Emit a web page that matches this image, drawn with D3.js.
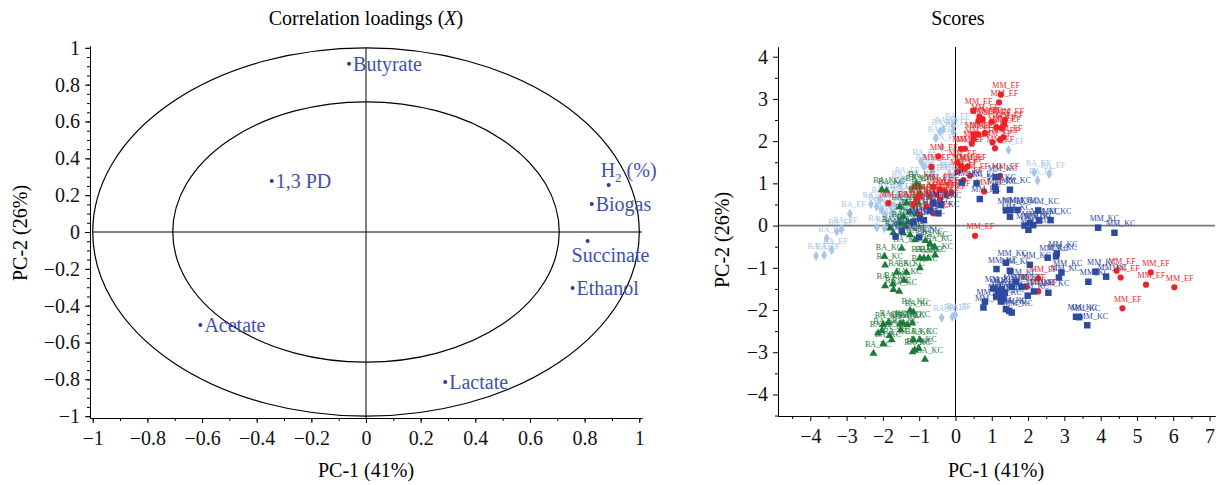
<!DOCTYPE html>
<html>
<head>
<meta charset="utf-8">
<script src="https://cdn.jsdelivr.net/npm/d3@7"></script>
<style>
  body { margin: 0; background: #fff; }
  svg { font-family: "Liberation Serif", "DejaVu Serif", serif; }
</style>
</head>
<body>
<svg id="chart" width="1216" height="485"></svg>
<script>
// ---------- loadings (left panel) ----------
var loadNames = ["Butyrate", "1,3 PD", "H2 (%)", "Biogas", "Succinate", "Ethanol", "Acetate", "Lactate"];
var loadPC1 = [-0.062, -0.345, 0.888, 0.826, 0.811, 0.756, -0.606, 0.290];
var loadPC2 = [0.913, 0.277, 0.255, 0.152, -0.049, -0.304, -0.505, -0.815];

var loadTicks = [-1, -0.8, -0.6, -0.4, -0.2, 0, 0.2, 0.4, 0.6, 0.8, 1];
var scoreXTicks = [-4, -3, -2, -1, 0, 1, 2, 3, 4, 5, 6, 7];
var scoreYTicks = [-4, -3, -2, -1, 0, 1, 2, 3, 4];

// ---------- scores (right panel): [PC-1, PC-2] ----------
var groupNames = ["BA_EF", "BA_KC", "MM_EF", "MM_KC"];

var baEF = [[-0.06,2.23],[-0.43,2.23],[-0.34,2.28],[-0.54,2.07],[-0.06,2.36],[-0.38,1.87],[1.46,1.79],
  [-0.95,1.52],[-0.87,1.40],[-0.70,1.40],[-0.63,1.28],[-0.29,1.16],[2.17,1.26],[2.58,1.22],[2.26,1.07],
  [-1.44,1.08],[-1.53,0.99],[-1.90,0.77],[-2.08,0.62],[-2.33,0.51],[-2.17,0.45],[-2.03,0.37],[-1.94,0.25],
  [-1.76,0.31],[-1.90,0.13],[-1.62,0.02],[-1.58,0.21],[-2.91,0.28],[-3.14,-0.09],[-3.27,-0.14],[-3.55,-0.30],
  [-3.41,-0.58],[-3.62,-0.70],[-3.84,-0.72],[-2.17,-0.05],[-1.96,-0.06],[-0.38,-2.18],[-0.09,-2.16],[-0.01,-2.12],
  [-1.58,0.71],[-1.48,0.61],[-1.35,0.69],[-1.80,0.49],[-1.35,0.37],[-1.16,0.45],[-0.61,1.16],[-0.17,1.22],
  [-0.06,1.16],[-1.21,0.88],[-1.71,0.29]];

var baKC = [[-1.07,0.99],[-1.14,0.91],[-0.98,0.92],[-2.03,0.85],[-1.90,0.83],[-0.98,0.77],[-1.07,0.65],
  [-1.02,0.53],[-1.35,0.53],[-1.53,0.45],[-1.25,0.33],[-1.07,0.28],[-1.44,0.21],[-1.30,0.09],[-1.53,0.06],
  [-1.39,-0.02],[-1.80,-0.06],[-1.71,-0.17],[-1.44,-0.18],[-1.25,-0.22],[-1.12,-0.34],[-1.48,-0.54],
  [-0.83,-0.36],[-0.70,-0.43],[-0.58,-0.51],[-1.96,-0.73],[-0.98,-0.77],[-0.87,-0.77],[-0.75,-0.77],
  [-0.56,-0.70],[-1.94,-0.94],[-0.98,-1.00],[-1.62,-1.11],[-1.35,-1.11],[-1.42,-1.30],[-1.94,-1.43],
  [-1.73,-1.39],[-1.71,-1.52],[-1.55,-1.56],[-1.25,-2.01],[-1.16,-2.05],[-1.99,-2.34],[-2.13,-2.55],
  [-2.03,-2.49],[-2.26,-3.03],[-1.99,-2.80],[-1.76,-2.71],[-1.53,-2.33],[-1.44,-2.31],[-1.33,-2.35],
  [-1.19,-2.31],[-1.51,-2.47],[-1.16,-2.71],[-1.12,-2.95],[-1.18,-2.99],[-0.98,-2.71],[-1.01,-2.91],
  [-0.84,-3.17],[-1.85,-2.30],[-1.82,-2.61]];

var mmEF = [[1.25,3.10],[1.20,2.92],[0.49,2.72],[0.66,2.58],[0.63,2.48],[0.75,2.52],[1.00,2.46],[1.36,2.50],
  [1.34,2.39],[1.13,2.33],[1.27,2.31],[0.49,2.16],[0.63,2.16],[0.81,2.19],[0.49,2.05],[0.45,1.94],[1.02,1.97],
  [1.23,2.03],[1.32,2.09],[1.09,1.83],[0.15,1.82],[0.26,1.82],[-0.66,1.39],[0.05,1.49],[0.14,1.41],[0.23,1.35],
  [0.33,1.40],[0.08,1.28],[0.22,1.08],[0.40,1.18],[1.23,1.18],[0.79,0.81],[-0.61,0.92],[-0.43,0.85],
  [-0.29,0.81],[-0.11,0.78],[-0.24,0.72],[-0.52,0.73],[-0.70,0.69],[-0.98,0.70],[-1.07,0.61],[-0.61,0.57],
  [-0.43,0.62],[-1.16,0.51],[-0.61,0.29],[-0.79,0.45],[-1.85,0.53],[-0.98,0.25],[0.54,-0.24],[4.44,-1.07],
  [4.55,-1.23],[5.38,-1.11],[5.25,-1.40],[6.03,-1.46],[4.60,-1.96],[2.28,-1.25],[1.96,-1.45],[2.28,-1.56],
  [-0.47,1.64]];

var mmKC = [[0.17,1.02],[0.58,1.00],[1.12,1.15],[1.09,0.92],[1.11,0.83],[1.50,0.85],[0.67,0.63],[1.39,0.36],
  [1.52,0.37],[1.71,0.37],[1.50,0.21],[2.28,0.36],[2.30,0.12],[2.62,0.13],[1.90,0.00],[2.01,-0.10],[2.05,0.06],
  [2.14,0.01],[3.93,-0.05],[4.38,-0.17],[2.79,-0.66],[2.77,-0.73],[2.54,-0.76],[1.39,-0.88],[2.05,-0.93],
  [1.13,-1.03],[1.50,-1.07],[2.92,-1.11],[3.86,-1.09],[4.15,-1.21],[2.85,-1.23],[1.67,-1.33],[3.66,-1.33],
  [1.04,-1.49],[1.18,-1.56],[1.27,-1.51],[1.36,-1.60],[1.55,-1.45],[1.82,-1.45],[2.16,-1.56],[2.56,-1.59],
  [1.23,-1.67],[1.32,-1.72],[1.12,-1.68],[1.99,-1.66],[0.81,-1.80],[1.25,-1.80],[0.77,-1.94],[1.39,-1.98],
  [1.48,-2.02],[1.55,-2.06],[3.32,-2.16],[3.41,-2.17],[3.63,-2.36],[-0.98,0.17],[-0.87,0.13],[-1.16,0.09],
  [-1.00,-0.28],[-1.65,-0.26],[-1.48,-0.12],[-0.61,0.53],[-0.70,0.36],[-0.47,0.29],[-0.41,0.49]];

var svg = d3.select("#chart");
var fmt = function(d) {
  var v = +Math.abs(d).toFixed(2);
  return (d < 0 ? "\u2212" : "") + v;
};
function range(a, b, s) { return d3.range(a, b + s / 2, s).map(function(v) { return +v.toFixed(3); }); }

function drawAxes(g, x, y, xMajor, xMinor, yMajor, yMinor) {
  var bottom = y.range()[0], left = x.range()[0];
  g.append("g").attr("transform", "translate(0," + bottom + ")")
    .call(d3.axisBottom(x).tickValues(xMinor).tickSize(3).tickSizeOuter(0).tickFormat(""));
  g.append("g").attr("transform", "translate(0," + bottom + ")")
    .call(d3.axisBottom(x).tickValues(xMajor).tickSize(5).tickSizeOuter(0).tickPadding(8).tickFormat(fmt));
  g.append("g").attr("transform", "translate(" + left + ",0)")
    .call(d3.axisLeft(y).tickValues(yMinor).tickSize(3).tickSizeOuter(0).tickFormat(""));
  g.append("g").attr("transform", "translate(" + left + ",0)")
    .call(d3.axisLeft(y).tickValues(yMajor).tickSize(5).tickSizeOuter(0).tickPadding(5).tickFormat(fmt));
  g.selectAll(".tick text").attr("font-size", 20).attr("font-family", "Liberation Serif, serif").attr("fill", "#111");
  g.selectAll("path.domain, .tick line").attr("stroke", "#000");
}

// ================= LEFT PANEL =================
var xL = d3.scaleLinear().domain([-1.01, 1.01]).range([90, 642]);
var yL = d3.scaleLinear().domain([-1.01, 1.01]).range([418, 46]);
var gL = svg.append("g");

gL.append("text").attr("x", 366).attr("y", 25).attr("text-anchor", "middle").attr("font-size", 20)
  .text("Correlation loadings (").append("tspan").attr("font-style", "italic").text("X");
gL.select("text").append("tspan").text(")");

[1, Math.SQRT1_2].forEach(function(r) {
  gL.append("ellipse").attr("cx", xL(0)).attr("cy", yL(0))
    .attr("rx", xL(r) - xL(0)).attr("ry", yL(0) - yL(r))
    .attr("fill", "none").attr("stroke", "#000").attr("stroke-width", 1.2);
});
gL.append("line").attr("x1", xL(-1)).attr("x2", xL(1.01)).attr("y1", yL(0)).attr("y2", yL(0)).attr("stroke", "#000");
gL.append("line").attr("x1", xL(0)).attr("x2", xL(0)).attr("y1", yL(1)).attr("y2", yL(-1.01)).attr("stroke", "#000");

drawAxes(gL, xL, yL, loadTicks, range(-1, 1, 0.1), loadTicks, range(-1, 1, 0.05));

var labelOffset = { "H2 (%)": [-8, -8], "Succinate": [-16, 21] };
loadNames.forEach(function(n, i) {
  var px = xL(loadPC1[i]), py = yL(loadPC2[i]);
  gL.append("circle").attr("cx", px).attr("cy", py).attr("r", 2).attr("fill", "#2b3d94");
  var off = labelOffset[n] || [4, 7];
  var t = gL.append("text").attr("x", px + off[0]).attr("y", py + off[1])
    .attr("font-size", 20).attr("fill", "#3e51ae");
  if (n === "H2 (%)") {
    t.append("tspan").text("H");
    t.append("tspan").attr("font-size", 13).attr("dy", 5).text("2");
    t.append("tspan").attr("dy", -5).text(" (%)");
  } else {
    t.text(n);
  }
});

gL.append("text").attr("x", 366).attr("y", 477).attr("text-anchor", "middle").attr("font-size", 20).text("PC-1 (41%)");
gL.append("text").attr("transform", "translate(27,233) rotate(-90)").attr("text-anchor", "middle")
  .attr("font-size", 20).text("PC-2 (26%)");

// ================= RIGHT PANEL =================
var xR = d3.scaleLinear().domain([-4.89, 7.15]).range([778, 1215]);
var yR = d3.scaleLinear().domain([-4.51, 4.23]).range([416, 47]);
var gR = svg.append("g");

gR.append("text").attr("x", 958).attr("y", 25).attr("text-anchor", "middle").attr("font-size", 20).text("Scores");

gR.append("line").attr("x1", xR.range()[0]).attr("x2", xR.range()[1]).attr("y1", yR(0)).attr("y2", yR(0))
  .attr("stroke", "#7a7a7a").attr("stroke-width", 1.6);
gR.append("line").attr("x1", xR(0)).attr("x2", xR(0)).attr("y1", yR.range()[1]).attr("y2", yR.range()[0])
  .attr("stroke", "#000");

drawAxes(gR, xR, yR, scoreXTicks, range(-4.5, 6.5, 0.5).filter(function(v) { return v % 1 !== 0; }),
  scoreYTicks, range(-4.5, 4, 0.5).filter(function(v) { return v % 1 !== 0; }));

var groups = [
  { data: baEF, color: "#a7c6ea", sym: d3.symbolDiamond, size: 30 },
  { data: baKC, color: "#1c7a3b", sym: d3.symbolTriangle, size: 28 },
  { data: mmEF, color: "#ec2326", sym: d3.symbolCircle, size: 30 },
  { data: mmKC, color: "#2c4a9f", sym: d3.symbolSquare, size: 42 }
];

groups.forEach(function(gr, gi) {
  var sg = gR.append("g");
  sg.selectAll("path").data(gr.data).enter().append("path")
    .attr("d", d3.symbol().type(gr.sym).size(gr.size))
    .attr("transform", function(d) { return "translate(" + xR(d[0]) + "," + yR(d[1]) + ")"; })
    .attr("fill", gr.color);
  sg.selectAll("text").data(gr.data).enter().append("text")
    .attr("x", function(d) { return xR(d[0]) - 8.5; })
    .attr("y", function(d) { return yR(d[1]) - 6.5; })
    .attr("font-size", 8).attr("fill", gr.color)
    .text(groupNames[gi]);
});

gR.append("text").attr("x", 996).attr("y", 477).attr("text-anchor", "middle").attr("font-size", 20).text("PC-1 (41%)");
gR.append("text").attr("transform", "translate(729,240) rotate(-90)").attr("text-anchor", "middle")
  .attr("font-size", 20).text("PC-2 (26%)");
</script>
</body>
</html>
